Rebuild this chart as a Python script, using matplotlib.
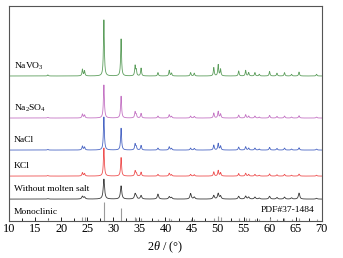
import numpy as np
import matplotlib
matplotlib.use("Agg")
import matplotlib.pyplot as plt
from matplotlib.ticker import MultipleLocator

plt.rcParams['font.family'] = ['Liberation Serif', 'DejaVu Serif']
plt.rcParams['mathtext.fontset'] = 'custom'
plt.rcParams['mathtext.rm'] = 'Liberation Serif'
plt.rcParams['mathtext.it'] = 'Liberation Serif:italic'

# peak positions of monoclinic ZrO2 (PDF#37-1484), 2theta in degrees
peak_pos = [17.4, 24.05, 24.45, 28.17, 31.47, 34.16, 34.38, 35.31, 38.55,
            40.72, 41.15, 44.82, 45.52, 49.27, 50.12, 50.57, 54.05, 55.39,
            55.97, 57.17, 58.0, 59.98, 61.4, 62.85, 64.2, 65.64, 69.0]
# stick heights of the reference card
stick_h = [2, 4, 4, 19, 13, 4, 3, 3, 2, 3, 2, 2, 2, 3, 5, 4, 3, 3, 3, 2, 2,
           3, 2, 3, 2, 3, 2]
# relative peak intensities, molten-salt samples
rel_salt = [0.02, 0.12, 0.09, 1.0, 0.66, 0.18, 0.1, 0.14, 0.06, 0.1, 0.05,
            0.06, 0.05, 0.15, 0.2, 0.12, 0.09, 0.1, 0.06, 0.06, 0.03, 0.08,
            0.05, 0.06, 0.03, 0.07, 0.03]
# relative peak intensities, sample without molten salt
rel_bare = [0.02, 0.14, 0.1, 1.0, 0.66, 0.25, 0.12, 0.18, 0.25, 0.12, 0.08,
            0.28, 0.1, 0.18, 0.28, 0.15, 0.14, 0.15, 0.1, 0.1, 0.05, 0.14,
            0.08, 0.1, 0.06, 0.3, 0.04]

samples = ["NaVO$_3$", "Na$_2$SO$_4$", "NaCl", "KCl", "Without molten salt"]
colors = ["#5c9e5c", "#c474c4", "#4a66c4", "#ee5050", "#3a3a3a"]
offsets = [145, 103, 71, 45, 22]
main_height = [56, 33, 33, 28, 20]
fwhm = [0.2, 0.22, 0.22, 0.22, 0.3]
label_y = [155, 113, 81, 55, 32]

x = np.linspace(10, 70, 4000)


def profile(rel, w):
    y = np.zeros_like(x)
    for p, r in zip(peak_pos, rel):
        y += r / (1 + ((x - p) / (w / 2)) ** 2)
    return y


fig = plt.figure(figsize=(3.43, 2.58), dpi=100)
ax = fig.add_axes([0.027, 0.143, 0.911, 0.834])

for i, name in enumerate(samples):
    rel = rel_bare if name.startswith("Without") else rel_salt
    y = offsets[i] + main_height[i] * profile(rel, fwhm[i])
    ax.plot(x, y, color=colors[i], lw=0.6)
    ax.text(10.9, label_y[i], name, fontsize=6.8, va='center', ha='left')

ax.vlines(peak_pos, 0, stick_h, color="#9a9a9a", lw=0.8)
ax.text(10.9, 9, "Monoclinic", fontsize=6.8, va='center', ha='left')
ax.text(68.6, 11, "PDF#37-1484", fontsize=6.8, va='center', ha='right')

ax.set_xlim(10, 70)
ax.set_ylim(0, 215)
ax.set_yticks([])
ax.xaxis.set_major_locator(MultipleLocator(5))
ax.xaxis.set_minor_locator(MultipleLocator(2.5))
ax.tick_params(axis='x', which='major', direction='in', length=3, width=0.6,
               labelsize=8.8, pad=1.5)
ax.tick_params(axis='x', which='minor', direction='in', length=2, width=0.6)
for s in ax.spines.values():
    s.set_color("#555555")
    s.set_linewidth(0.8)
ax.set_xlabel(r"$2\theta$ / (°)", fontsize=8.8, labelpad=3)

fig.savefig("out.png", dpi=100)
